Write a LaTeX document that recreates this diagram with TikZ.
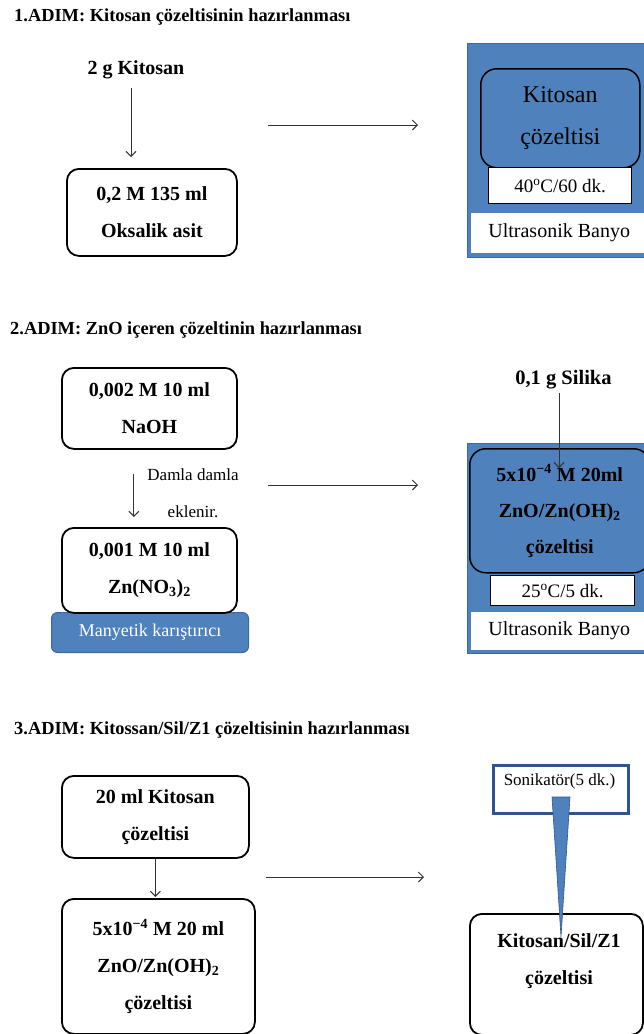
\documentclass[tikz,border=0pt]{standalone}
\usepackage{fontspec}
\setmainfont{Liberation Serif}
\usetikzlibrary{arrows.meta,positioning}
\definecolor{bathblue}{HTML}{4F81BD}
\definecolor{bathedge}{HTML}{3C68A4}
\definecolor{soniedge}{HTML}{2F5590}

\begin{document}
\begin{tikzpicture}[
x=1pt, y=-1pt,
title/.style={anchor=west, inner sep=0pt, font=\bfseries\fontsize{18.4}{20}\selectfont},
plain/.style={inner sep=0pt, align=center, font=\bfseries\fontsize{20}{37}\selectfont},
note/.style={inner sep=0pt, align=center, font=\fontsize{17}{37}\selectfont},
block/.style={draw, line width=1.8pt, rounded corners=12pt, fill=white, align=center, inner sep=0pt, font=\bfseries\fontsize{20}{37}\selectfont, anchor=north west},
bath/.style={draw=bathedge, line width=1pt, fill=bathblue, inner sep=0pt, anchor=north west},
strip/.style={fill=white, inner sep=0pt, anchor=north west, font=\fontsize{20}{22}\selectfont},
flask/.style={draw, line width=1.5pt, fill=bathblue, rounded corners=16pt, align=center, inner sep=0pt, anchor=north west},
tempbox/.style={draw, line width=1.2pt, fill=white, inner sep=0pt, anchor=north west, font=\fontsize{19}{22}\selectfont},
stirrer/.style={draw=bathedge, line width=1pt, fill=bathblue, rounded corners=6pt, text=white, inner sep=0pt, anchor=north west, font=\fontsize{18}{20}\selectfont},
soni/.style={draw=soniedge, line width=3pt, fill=white, inner sep=0pt, anchor=north west},
arrow/.style={-{Straight Barb[length=5pt,width=10pt]}, line width=1pt, draw=black!80}
]
\useasboundingbox (0,0) rectangle (643,1034);

\node[title] (t1) at (14,17) {1.ADIM: Kitosan çözeltisinin hazırlanması};
\node[plain] (kit) at (136,70) {2 g Kitosan};
\node[block, minimum width=170pt, minimum height=87pt] (acid) at (66,168) {0,2 M 135 ml\\Oksalik asit};
\draw[arrow, shorten <=9pt, shorten >=11pt] ([xshift=-5pt]kit.south) -- ([xshift=-5pt]kit.south |- acid.north);
\coordinate (go1) at (268,125);
\coordinate (to1) at (418,125);
\draw[arrow] (go1) -- (to1);
\node[bath, minimum width=183pt, minimum height=214pt] (bath1) at (467,43) {};
\node[strip, minimum width=176pt, minimum height=40pt] (ub1) at (471,213) {Ultrasonik Banyo};
\node[flask, minimum width=159pt, minimum height=99pt, font=\fontsize{24}{42}\selectfont] (sol1) at (480,68) {Kitosan\\çözeltisi};
\node[tempbox, minimum width=143pt, minimum height=36pt] (temp1) at (488,167) {40\textsuperscript{o}C/60 dk.};

\node[title] (t2) at (10,330) {2.ADIM: ZnO içeren çözeltinin hazırlanması};
\node[block, minimum width=175pt, minimum height=81pt] (naoh) at (61,367) {0,002 M 10 ml\\NaOH};
\node[stirrer, minimum width=197pt, minimum height=40pt] (stir) at (51,612) {Manyetik karıştırıcı};
\node[block, minimum width=175pt, minimum height=85pt] (znn) at (61,527) {0,001 M 10 ml\\Zn(NO\textsubscript{3})\textsubscript{2}};
\draw[arrow, shorten <=24pt, shorten >=10pt] ([xshift=-15.5pt]naoh.south) -- ([xshift=-15.5pt]naoh.south |- znn.north);
\node[note] (drop) at (193,493.5) {Damla damla\\eklenir.};
\coordinate (go2) at (268,485);
\coordinate (to2) at (418,485);
\draw[arrow] (go2) -- (to2);
\node[bath, minimum width=183pt, minimum height=210pt] (bath2) at (467,443) {};
\node[strip, minimum width=176pt, minimum height=38pt] (ub2) at (471,612) {Ultrasonik Banyo};
\node[flask, minimum width=180pt, minimum height=124pt, font=\bfseries\fontsize{20}{36}\selectfont] (sol2) at (469,448) {5x10\textsuperscript{−4} M 20ml\\ZnO/Zn(OH)\textsubscript{2}\\çözeltisi};
\node[tempbox, minimum width=144pt, minimum height=30pt] (temp2) at (490,575) {25\textsuperscript{o}C/5 dk.};
\node[plain, font=\bfseries\fontsize{20.5}{24}\selectfont] (silika) at (563.5,380) {0,1 g Silika};
\coordinate (drip) at (559,468);
\draw[arrow, shorten <=3pt] (silika.south -| drip) -- (drip);

\node[title] (t3) at (14,730) {3.ADIM: Kitossan/Sil/Z1 çözeltisinin hazırlanması};
\node[block, minimum width=187pt, minimum height=82pt] (chit) at (61,775) {20 ml Kitosan\\çözeltisi};
\node[block, minimum width=193pt, minimum height=135pt] (mix) at (61,898) {5x10\textsuperscript{−4} M 20 ml\\ZnO/Zn(OH)\textsubscript{2}\\çözeltisi};
\draw[arrow, shorten >=1pt] (chit.south) -- (chit.south |- mix.north);
\coordinate (go3) at (266,877);
\coordinate (to3) at (424,877);
\draw[arrow] (go3) -- (to3);
\node[block, minimum width=173pt, minimum height=121pt] (final) at (469,913) {};
\node[plain] (finaltxt) at (559,961) {Kitosan/Sil/Z1\\çözeltisi};
\node[soni, minimum width=135pt, minimum height=48pt] (soni) at (492,764) {};
\node[note] (sonitxt) at (559.5,781) {Sonikatör(5 dk.)};
\fill[bathblue, draw=soniedge, line width=0.6pt] (552,797) -- (570,797) -- (561,937) -- cycle;
\end{tikzpicture}
\end{document}
